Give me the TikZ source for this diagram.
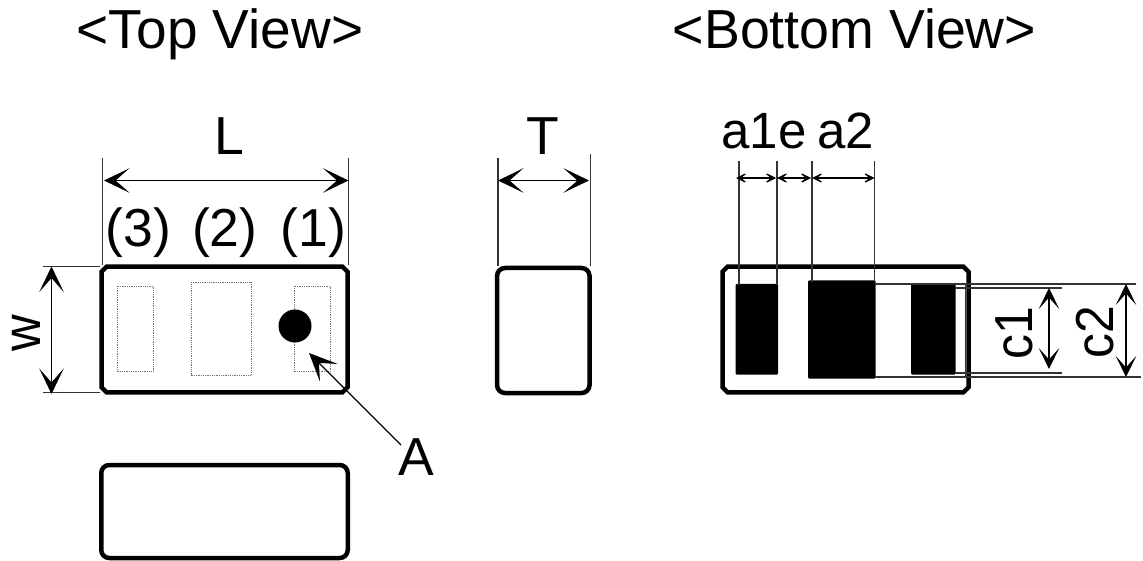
\documentclass[tikz,border=0pt]{standalone}
\usepackage{fontspec}
\setmainfont{Liberation Sans}
\usetikzlibrary{arrows.meta,calc}
\newcommand{\chamferbox}[1]{\draw[line width=4.5pt,line join=miter,draw=black]
  ($(#1.north west)+(5,0)$)--($(#1.north east)+(-5,0)$)--($(#1.north east)+(0,5)$)--($(#1.south east)+(0,-5)$)--($(#1.south east)+(-5,0)$)--($(#1.south west)+(5,0)$)--($(#1.south west)+(0,-5)$)--($(#1.north west)+(0,5)$)--cycle;}
\tikzset{
  pkg/.style={rectangle,inner sep=0pt,outer sep=0pt},
  roundpkg/.style={rectangle,draw=black,line width=4.5pt,rounded corners=8pt,inner sep=0pt,outer sep=0pt},
  pad/.style={draw=black!55,line width=.8pt,densely dotted},
  term/.style={fill=black,rounded corners=1pt},
  extline/.style={line width=1.2pt,draw=black!80},
  bigdim/.style={line width=1.2pt,{Stealth[length=25.5pt,width=24.5pt,inset=14pt]}-{Stealth[length=25.5pt,width=24.5pt,inset=14pt]}},
  meddim/.style={line width=1.2pt,{Stealth[length=21pt,width=20.5pt,inset=11.5pt]}-{Stealth[length=21pt,width=20.5pt,inset=11.5pt]}},
  smalldim/.style={line width=1.1pt,{Stealth[length=14pt,width=14pt,inset=9pt]}-{Stealth[length=14pt,width=14pt,inset=9pt]}},
  leader/.style={line width=1.2pt,{Stealth[length=28pt,width=25pt,inset=14pt]}-},
  lbl/.style={font=\fontsize{53.5}{53.5}\selectfont,inner sep=0pt,anchor=base},
  ttl/.style={font=\fontsize{55}{55}\selectfont,inner sep=0pt,anchor=base},
}
\begin{document}
\begin{tikzpicture}[x=1pt,y=-1pt]
\useasboundingbox (0,0) rectangle (1143,561);
% titles
\node[ttl] (ttop) at (220,48.5) {<Top View>};
\node[ttl,xscale=.976] (tbot) at (854.5,48.5) {<Bottom View>};
% packages
\node[pkg,minimum width=246pt,minimum height=125.5pt] (top) at (224.5,329.5) {};
\chamferbox{top}
\node[roundpkg,minimum width=92.5pt,minimum height=125pt] (side) at (543.3,330.5) {};
\node[pkg,minimum width=246pt,minimum height=125.5pt] (bot) at (845.5,329.5) {};
\chamferbox{bot}
\node[roundpkg,minimum width=246.5pt,minimum height=93pt] (low) at (224.5,511.5) {};
% top view pads
\draw[pad] (117,286) rectangle (153.5,371);
\draw[pad] (191,282.5) rectangle (251,375);
\draw[pad] (294,286) rectangle (330.5,371);
\node[circle,fill=black,minimum size=33pt,inner sep=0pt] (dot) at (295,326) {};
% bottom view terminals
\fill[term] (735.5,284) rectangle (778,374.5);
\fill[term] (808,280.5) rectangle (875.5,378.5);
\fill[term] (911,284) rectangle (955.5,374.5);
% L
\coordinate (La) at (102.3,158); \coordinate (Lb) at (102.3,265);
\coordinate (Lc) at (348.3,158); \coordinate (Ld) at (348.3,265);
\draw[extline] (La)--(Lb); \draw[extline] (Lc)--(Ld);
\coordinate (L1) at (104,180.5); \coordinate (L2) at (348.5,180.5);
\draw[bigdim] (L1)--(L2);
\node[lbl] (Ltxt) at (229,155) {L};
\node[lbl] (n3) at (138.3,246.7) {(3)};
\node[lbl] (n2) at (224.7,246.7) {(2)};
\node[lbl] (n1) at (313.3,246.7) {(1)};
% w
\coordinate (wa) at (43,266.5); \coordinate (wb) at (100,266.5);
\coordinate (wc) at (43,392.5); \coordinate (wd) at (100,392.5);
\draw[extline] (wa)--(wb); \draw[extline] (wc)--(wd);
\coordinate (w1) at (51.5,266.5); \coordinate (w2) at (51.5,394);
\draw[bigdim] (w1)--(w2);
\node[lbl,rotate=90,xscale=.95] (wtxt) at (40,333) {w};
% A
\coordinate (Aend) at (401,445);
\coordinate (Atip) at (309,353);
\draw[leader] (Atip)--(Aend);
\node[lbl] (Atxt) at (416.5,475) {A};
% T
\coordinate (Ta) at (498,158); \coordinate (Tb) at (498,266);
\coordinate (Tc) at (590.7,154); \coordinate (Td) at (590.7,266);
\draw[extline] (Ta)--(Tb); \draw[extline] (Tc)--(Td);
\coordinate (T1) at (498,180.5); \coordinate (T2) at (589,180.5);
\draw[bigdim] (T1)--(T2);
\node[lbl] (Ttxt) at (543,155) {T};
% a1 e a2
\coordinate (e1) at (739,161); \coordinate (e1b) at (739,285);
\coordinate (e2) at (777,161); \coordinate (e2b) at (777,285);
\coordinate (e3) at (812,161); \coordinate (e3b) at (812,282);
\coordinate (e4) at (874.5,161); \coordinate (e4b) at (874.5,282);
\draw[extline] (e1)--(e1b); \draw[extline] (e2)--(e2b); \draw[extline] (e3)--(e3b); \draw[extline] (e4)--(e4b);
\coordinate (a1) at (736,178); \coordinate (a2) at (776,178);
\coordinate (a3) at (777,178); \coordinate (a4) at (811,178);
\coordinate (a5) at (812,178); \coordinate (a6) at (874.5,178);
\draw[smalldim] (a1)--(a2); \draw[smalldim] (a3)--(a4); \draw[smalldim] (a5)--(a6);
\node[lbl,font=\fontsize{51}{51}\selectfont] (atxt) at (798,149) {a1e\hspace{11pt}a2};
% c1
\coordinate (c1a) at (955,288); \coordinate (c1b) at (1062,288);
\coordinate (c1c) at (955,373); \coordinate (c1d) at (1062,373);
\draw[extline] (c1a)--(c1b); \draw[extline] (c1c)--(c1d);
\coordinate (c11) at (1049,288); \coordinate (c12) at (1049,369);
\draw[meddim] (c11)--(c12);
\node[lbl,rotate=90,xscale=.93] (c1txt) at (1032,333) {c1};
% c2
\coordinate (c2a) at (875,284); \coordinate (c2b) at (1136,284);
\coordinate (c2c) at (875,377); \coordinate (c2d) at (1141,377);
\draw[extline] (c2a)--(c2b); \draw[extline] (c2c)--(c2d);
\coordinate (c2v1) at (965.7,284); \coordinate (c2v2) at (965.7,377);
\draw[extline] (c2v1)--(c2v2);
\coordinate (c21) at (1126,284); \coordinate (c22) at (1126,377);
\draw[meddim] (c21)--(c22);
\node[lbl,rotate=90,xscale=.93] (c2txt) at (1113,332) {c2};
\end{tikzpicture}
\end{document}
